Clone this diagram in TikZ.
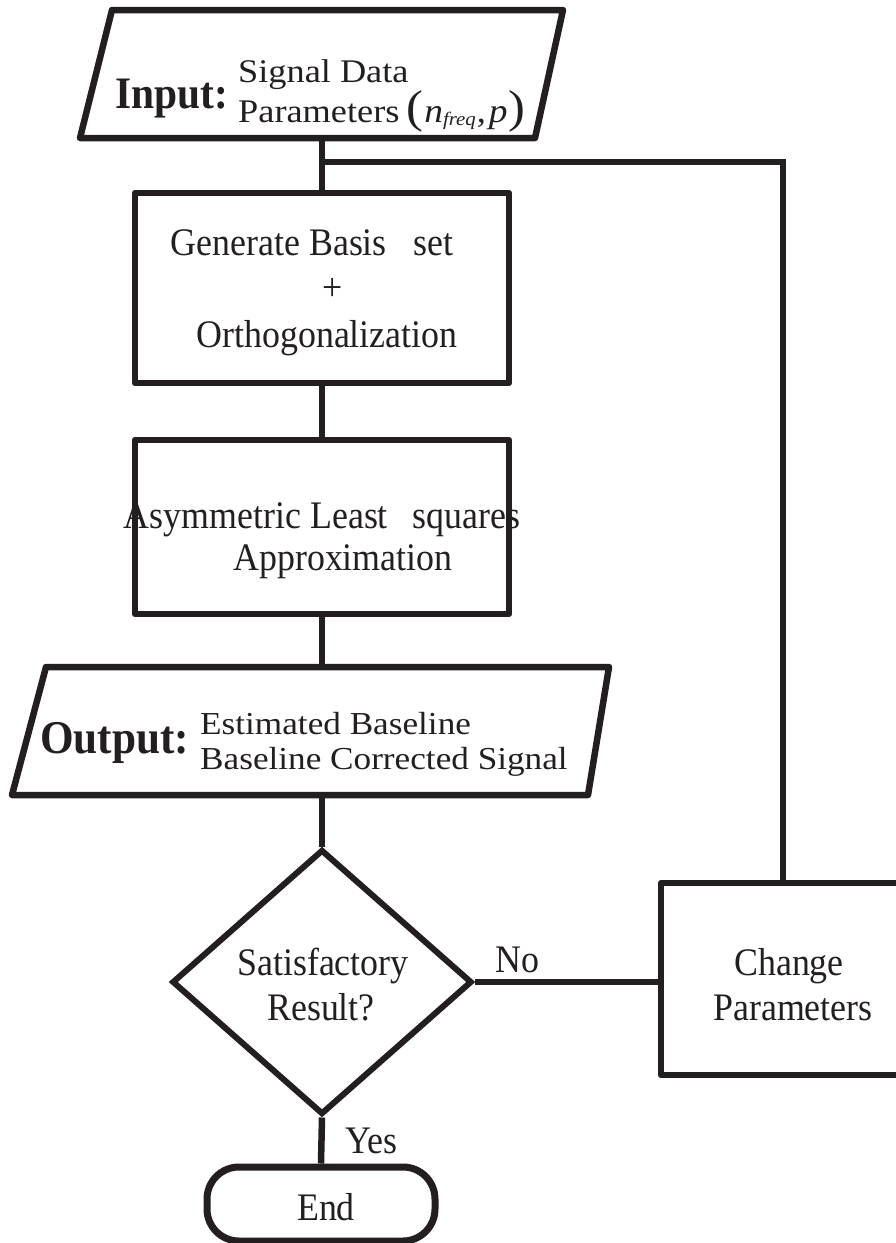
\documentclass[tikz,border=0pt]{standalone}
\usepackage{fontspec}
\setmainfont{Liberation Serif}[FakeStretch=0.92]
\newfontfamily\widefam{Liberation Serif}[FakeStretch=1.1]
\usetikzlibrary{shapes.geometric,calc}
\definecolor{ink}{RGB}{35,31,32}
\tikzset{
  conn/.style={line width=6.5pt, draw=ink, line join=round},
  boxshape/.style={draw=ink, line width=6.5pt, line join=round, inner sep=0pt},
  txt/.style={inner sep=0pt, text=ink, font=\fontsize{39}{46}\selectfont},
  iotxt/.style={inner sep=0pt, text=ink, font=\widefam\fontsize{33}{40}\selectfont},
}
\begin{document}
\begin{tikzpicture}[x=1pt,y=-1pt]
\useasboundingbox (0,0) rectangle (896,1243);
\clip (0,0) rectangle (896,1243);
\fill[white] (0,0) rectangle (896,1243);

% Input parallelogram
\draw[boxshape] (112,10) -- (563,10) -- (535,138) -- (80,138) -- cycle;
\coordinate (inbot) at (322,138);
\node[txt, anchor=base west, font=\fontsize{45}{50}\selectfont\bfseries] (inlab) at (115,108) {Input:};
\node[iotxt, anchor=base west] (sig) at (238,82) {Signal Data};
\node[iotxt, anchor=base west] (par) at (238,122) {Parameters\hspace{7pt}{\fontsize{46}{46}\selectfont(}\hspace{1pt}{\fontsize{34}{34}\selectfont\textit{n}}\raisebox{-3pt}{\fontsize{19}{19}\selectfont\textit{freq}}\hspace{1pt},\hspace{3pt}{\fontsize{34}{34}\selectfont\textit{p}}\hspace{1pt}{\fontsize{46}{46}\selectfont)}};

% Box 1
\node[boxshape, minimum width=374pt, minimum height=190pt] (box1) at (322,288) {};
\node[txt, anchor=base] (b1a) at (312,255) {Generate Basis\hspace{0.45em} set};
\node[txt, anchor=base] (b1b) at (333,300) {+};
\node[txt, anchor=base] (b1c) at (327,347) {Orthogonalization};

% Box 2
\node[boxshape, minimum width=374pt, minimum height=174pt] (box2) at (322,527) {};
\node[txt, anchor=base] (b2a) at (322,528) {Asymmetric Least\hspace{0.4em} squares};
\node[txt, anchor=base] (b2b) at (343,570) {Approximation};

% Output parallelogram
\draw[boxshape] (46,667) -- (609,667) -- (588,795) -- (12,795) -- cycle;
\coordinate (outtop) at (322,667);
\coordinate (outbot) at (322,795);
\node[txt, anchor=base west, font=\fontsize{47}{50}\selectfont\bfseries] (outlab) at (40,753) {Output:};
\node[iotxt, anchor=base west, font=\widefam\fontsize{32}{36}\selectfont] (est) at (200,734) {Estimated Baseline};
\node[iotxt, anchor=base west, font=\widefam\fontsize{32}{36}\selectfont] (bcs) at (200,769) {Baseline Corrected Signal};

% Decision
\node[diamond, draw=ink, line width=6pt, minimum width=300pt, minimum height=265pt, shape aspect=1.13, inner sep=0pt] (dec) at (322,982) {};
\node[txt, anchor=base] (d1) at (323,975) {Satisfactory};
\node[txt, anchor=base] (d2) at (321,1020) {Result?};

% Change parameters
\node[boxshape, minimum width=244pt, minimum height=192pt] (chg) at (783,979) {};
\node[txt, anchor=base] (c1) at (789,975) {Change};
\node[txt, anchor=base] (c2) at (793,1020) {Parameters};

% End
\node[boxshape, line width=7pt, rounded corners=32pt, minimum width=228pt, minimum height=74pt] (end) at (321,1204) {};
\node[txt, anchor=base] (endt) at (326,1220) {End};

% Labels
\node[txt, anchor=base west] (nolab) at (495,972) {No};
\node[txt, anchor=base west] (yeslab) at (345,1153) {Yes};

% Connectors
\coordinate (jn) at (322,162);
\draw[conn] (inbot) -- (box1.north);
\draw[conn] (box1.south) -- (box2.north);
\draw[conn] (box2.south) -- (outtop);
\draw[conn] (outbot) -- (dec.north);
\draw[conn] (dec.south) -- (end.north);
\draw[conn] (dec.east) -- (dec.east -| chg.west);
\draw[conn, line join=miter] (jn) -| (chg.north);
\end{tikzpicture}
\end{document}
